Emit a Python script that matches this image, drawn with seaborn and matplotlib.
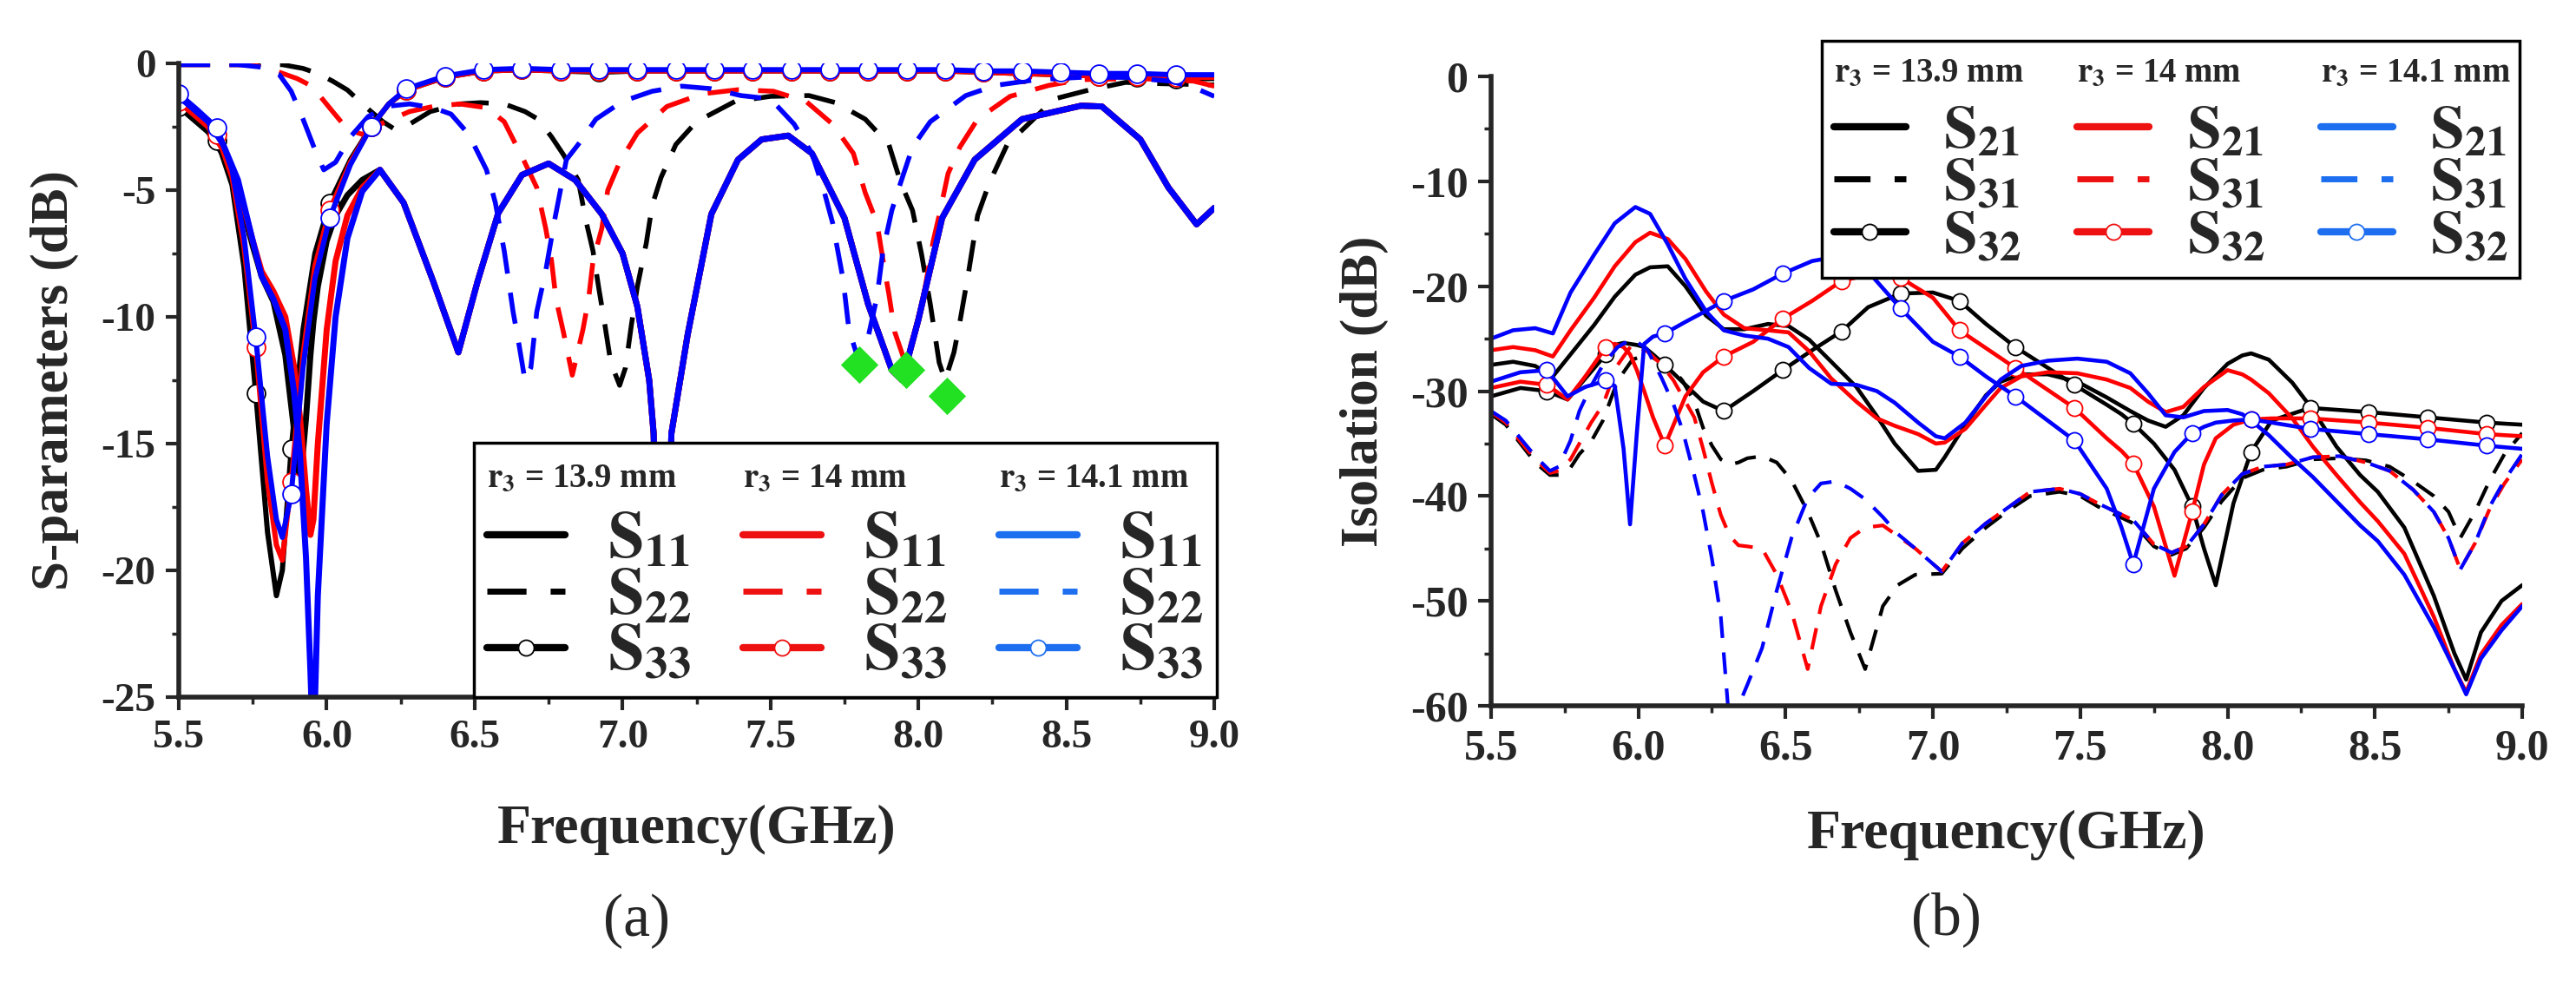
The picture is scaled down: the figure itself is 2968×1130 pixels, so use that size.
import matplotlib
matplotlib.use("Agg")
import matplotlib.pyplot as plt
from matplotlib.lines import Line2D
from matplotlib.text import Text
from matplotlib.legend_handler import HandlerBase
from matplotlib.ticker import MultipleLocator, FormatStrFormatter
import seaborn as sns

sns.set_style("ticks")
plt.rcParams["font.family"] = ["Liberation Serif", "DejaVu Serif"]
plt.rcParams["font.weight"] = "bold"
plt.rcParams["axes.labelweight"] = "bold"
plt.rcParams["mathtext.fontset"] = "stix"
plt.rcParams["axes.unicode_minus"] = False

# ---------------- (a) S-parameters ----------------
s11_head_f = [5.50, 5.55, 5.60, 5.65, 5.70, 5.75, 5.78, 5.82, 5.86, 5.89, 5.91, 5.93, 5.945, 5.955, 5.97, 6.00, 6.03, 6.07, 6.12]
s11_black_head = [-1.7, -2.2, -2.7, -3.6, -5.0, -7.2, -8.4, -9.4, -11.5, -14.5, -16.6, -14.0, -11.5, -10.2, -8.8, -7.0, -6.0, -5.2, -4.6]
s11_red_head = [-1.5, -2.0, -2.5, -3.4, -4.8, -7.0, -8.2, -9.0, -10.0, -12.0, -14.0, -16.8, -18.6, -18.0, -15.0, -10.5, -7.8, -6.0, -4.9]
s11_blue_head = [-1.3, -1.8, -2.3, -3.2, -4.6, -7.0, -8.4, -9.3, -10.5, -13.0, -15.5, -19.5, -24.0, -27.5, -21.0, -14.2, -10.0, -6.9, -5.05]
s11_tail_f = [6.18, 6.26, 6.36, 6.445, 6.51, 6.58, 6.66, 6.75, 6.84, 6.93, 7.00, 7.05, 7.09, 7.105, 7.135, 7.165, 7.22, 7.30,
              7.39, 7.47, 7.56, 7.64, 7.75, 7.83, 7.91, 7.945, 8.00, 8.08, 8.19, 8.35, 8.55, 8.62, 8.75, 8.845, 8.94, 9.00]
s11_tail = [-4.2, -5.5, -8.6, -11.4, -8.6, -5.9, -4.4, -3.95, -4.6, -5.95, -7.5, -9.6, -12.5, -14.6, -28.0, -14.6, -10.7, -5.95,
            -3.8, -3.0, -2.85, -3.55, -6.1, -9.5, -12.1, -12.5, -10.1, -6.1, -3.8, -2.2, -1.67, -1.7, -3.0, -4.9, -6.35, -5.7]

s22_black_f = [5.50, 5.85, 5.92, 5.97, 6.02, 6.07, 6.13, 6.19, 6.23, 6.28, 6.35, 6.45, 6.52, 6.60, 6.67, 6.714, 6.76, 6.80, 6.85,
               6.876, 6.90, 6.92, 6.94, 6.96, 6.99, 7.01, 7.03, 7.05, 7.08, 7.10, 7.13, 7.18, 7.25, 7.38, 7.50, 7.63, 7.72,
               7.82, 7.90, 7.94, 7.98, 8.01, 8.04, 8.07, 8.09, 8.12, 8.14, 8.17, 8.20, 8.24, 8.30, 8.46, 8.58, 8.70, 8.82, 9.00]
s22_black = [-0.05, -0.05, -0.2, -0.4, -0.7, -1.05, -1.7, -2.3, -2.6, -2.4, -1.9, -1.6, -1.55, -1.6, -1.9, -2.2, -2.9, -3.6, -4.6,
             -6.2, -7.4, -8.9, -10.3, -11.8, -12.7, -12.0, -10.3, -8.8, -7.1, -5.6, -4.5, -3.2, -2.3, -1.5, -1.3, -1.27, -1.55,
             -2.2, -3.2, -4.7, -5.8, -7.5, -9.5, -11.8, -12.5, -11.4, -10.2, -8.2, -6.0, -4.7, -3.2, -1.4, -1.04, -0.75, -0.8, -0.85]
s22_red_f = [5.50, 5.75, 5.84, 5.90, 5.95, 6.02, 6.07, 6.12, 6.18, 6.28, 6.36, 6.45, 6.54, 6.60, 6.665, 6.71, 6.74, 6.76, 6.775,
             6.80, 6.83, 6.866, 6.885, 6.90, 6.93, 6.95, 6.99, 7.05, 7.15, 7.27, 7.39, 7.51, 7.62, 7.71, 7.78, 7.82, 7.86,
             7.885, 7.90, 7.92, 7.955, 7.99, 8.02, 8.05, 8.07, 8.10, 8.14, 8.20, 8.31, 8.44, 8.55, 8.75, 8.93, 9.00]
s22_red = [-0.05, -0.05, -0.35, -0.6, -0.9, -1.9, -2.6, -2.8, -2.4, -1.9, -1.7, -1.6, -1.75, -2.3, -3.8, -4.9, -6.5, -7.8, -9.3,
           -10.6, -12.3, -10.5, -9.3, -7.8, -6.5, -5.0, -3.9, -2.75, -1.7, -1.2, -1.04, -1.1, -1.5, -2.4, -3.55, -5.1, -6.3,
           -8.1, -9.1, -10.6, -11.8, -10.5, -9.0, -7.0, -6.0, -4.35, -3.3, -2.2, -1.3, -0.87, -0.64, -0.6, -0.7, -0.9]
s22_blue_f = [5.50, 5.70, 5.78, 5.84, 5.88, 5.92, 5.96, 5.99, 6.03, 6.08, 6.14, 6.20, 6.28, 6.36, 6.42, 6.48, 6.54, 6.57, 6.60,
              6.63, 6.65, 6.67, 6.69, 6.71, 6.74, 6.77, 6.81, 6.85, 6.91, 7.00, 7.10, 7.20, 7.30, 7.40, 7.50, 7.58, 7.64,
              7.68, 7.71, 7.745, 7.765, 7.80, 7.83, 7.86, 7.88, 7.91, 7.94, 7.98, 8.04, 8.16, 8.26, 8.40, 8.55, 8.70, 8.85, 8.93, 9.00]
s22_blue = [-0.05, -0.05, -0.15, -0.45, -1.1, -2.2, -3.4, -4.2, -3.9, -2.9, -2.1, -1.7, -1.6, -1.75, -2.0, -2.8, -4.2, -5.5, -7.4,
            -9.8, -11.1, -12.5, -12.0, -9.8, -8.2, -6.2, -3.8, -3.2, -2.2, -1.5, -1.1, -0.9, -1.0, -1.27, -1.4, -2.4, -3.55,
            -5.0, -6.3, -8.5, -10.5, -11.8, -10.8, -9.2, -7.4, -5.8, -4.7, -3.3, -2.3, -1.27, -0.87, -0.64, -0.55, -0.55, -0.7, -0.95, -1.3]

s33_f = [5.50, 5.56, 5.63, 5.68, 5.72, 5.76, 5.80, 5.83, 5.85, 5.88, 5.92, 5.96, 6.01, 6.08, 6.15, 6.21, 6.27, 6.40, 6.53,
         6.66, 6.79, 6.92, 7.05, 7.18, 7.31, 7.44, 7.57, 7.70, 7.83, 7.96, 8.09, 8.22, 8.35, 8.48, 8.61, 8.74, 8.87, 9.00]
s33_marks = [5.50, 5.63, 5.76, 5.88, 6.01, 6.15, 6.27, 6.40, 6.53, 6.66, 6.79, 6.92, 7.05, 7.18, 7.31, 7.44, 7.57, 7.70,
             7.83, 7.96, 8.09, 8.22, 8.35, 8.48, 8.61, 8.74, 8.87]
s33_black = [-1.7, -2.2, -3.05, -4.8, -8.0, -13.0, -18.5, -21.0, -20.0, -15.2, -10.5, -7.5, -5.5, -3.8, -2.5, -1.6, -1.05, -0.55, -0.3,
             -0.25, -0.3, -0.35, -0.3, -0.3, -0.3, -0.3, -0.3, -0.3, -0.3, -0.3, -0.3, -0.35, -0.4, -0.45, -0.5, -0.55, -0.6, -0.6]
s33_red = [-1.5, -2.0, -2.8, -4.5, -7.2, -11.2, -16.5, -19.0, -19.6, -16.5, -11.5, -8.0, -5.8, -3.9, -2.5, -1.6, -1.05, -0.55, -0.3,
           -0.25, -0.3, -0.3, -0.3, -0.3, -0.3, -0.3, -0.3, -0.3, -0.3, -0.3, -0.3, -0.35, -0.4, -0.45, -0.5, -0.5, -0.55, -0.55]
s33_blue = [-1.2, -1.8, -2.55, -4.2, -6.8, -10.8, -15.5, -18.0, -18.7, -17.0, -12.0, -8.5, -6.1, -4.0, -2.5, -1.6, -1.0, -0.5, -0.25,
            -0.2, -0.25, -0.25, -0.25, -0.25, -0.25, -0.25, -0.25, -0.25, -0.25, -0.25, -0.25, -0.3, -0.3, -0.35, -0.4, -0.4, -0.45, -0.45]

diamond_f = [7.80, 7.957, 8.095]
diamond_db = [-11.9, -12.1, -13.1]

# ---------------- (b) Isolation ----------------
r21_f = [5.50, 5.575, 5.65, 5.71, 5.77, 5.85, 5.92, 5.99, 6.04, 6.10, 6.16, 6.23, 6.29, 6.36, 6.44, 6.51, 6.58, 6.655, 6.74,
         6.81, 6.87, 6.95, 7.01, 7.04, 7.11, 7.18, 7.23, 7.30, 7.39, 7.49, 7.59, 7.67, 7.73, 7.79, 7.85, 7.92, 8.00, 8.05,
         8.08, 8.14, 8.22, 8.29, 8.37, 8.45, 8.51, 8.60, 8.70, 8.77, 8.81, 8.86, 8.93, 9.00]
s21_black = [-27.5, -27.2, -27.6, -28.6, -26.5, -23.7, -21.0, -18.9, -18.2, -18.1, -20.0, -22.8, -24.1, -24.1, -23.6, -23.8,
             -25.1, -27.2, -29.6, -32.4, -35.0, -37.6, -37.5, -36.3, -33.2, -30.4, -29.1, -28.4, -28.4, -29.1, -30.6, -31.9,
             -32.8, -33.4, -32.3, -29.7, -27.4, -26.6, -26.4, -27.0, -29.2, -31.8, -35.3, -38.0, -39.6, -43.0, -49.5, -55.0,
             -57.5, -53.0, -50.0, -48.5]
s21_red = [-26.1, -25.8, -26.1, -26.7, -24.2, -21.1, -18.1, -15.8, -14.9, -15.5, -17.4, -20.5, -22.7, -24.0, -24.2, -24.4,
           -26.2, -28.8, -31.0, -32.6, -33.3, -34.1, -35.0, -34.9, -33.6, -31.3, -29.7, -28.6, -28.2, -28.3, -28.9, -29.7,
           -31.0, -32.0, -31.5, -29.6, -28.0, -28.4, -28.9, -30.2, -32.6, -35.3, -38.0, -40.6, -42.4, -45.5, -51.5, -56.5,
           -58.7, -55.1, -52.3, -50.3]
s21_blue = [-25.0, -24.2, -24.0, -24.5, -20.6, -17.0, -14.0, -12.45, -13.1, -16.0, -19.3, -22.4, -24.2, -24.7, -25.0, -25.8,
            -27.8, -29.3, -29.4, -30.0, -31.1, -33.0, -34.3, -34.5, -33.0, -30.5, -28.9, -27.6, -27.1, -26.9, -27.2, -28.3,
            -30.2, -32.3, -32.5, -31.9, -31.8, -32.2, -32.8, -34.2, -36.4, -38.2, -40.5, -42.8, -44.3, -47.5, -52.5, -56.5,
            -58.9, -55.5, -52.8, -50.5]

r31_f = [5.50, 5.55, 5.60, 5.65, 5.70, 5.73, 5.77, 5.80, 5.84, 5.88, 5.93, 5.98, 6.03, 6.08, 6.12, 6.15, 6.19, 6.22, 6.25, 6.28,
         6.31, 6.34, 6.37, 6.42, 6.47, 6.52, 6.575, 6.62, 6.67, 6.72, 6.77, 6.83, 6.88, 6.94, 7.03, 7.10, 7.18, 7.26, 7.33, 7.43,
         7.50, 7.56, 7.62, 7.68, 7.75, 7.81, 7.86, 7.92, 7.98, 8.05, 8.12, 8.20, 8.29, 8.38, 8.47, 8.55, 8.63, 8.70, 8.75, 8.79,
         8.84, 8.89, 8.94, 9.00]
s31_black = [-32.2, -33.2, -35.0, -36.8, -38.0, -38.0, -37.3, -36.0, -34.8, -32.8, -29.0, -27.0, -26.5, -27.3, -28.0, -29.0,
             -31.0, -33.5, -35.2, -36.5, -37.0, -36.8, -36.4, -36.2, -36.8, -38.5, -41.5, -44.5, -49.0, -53.0, -56.5, -50.5,
             -48.5, -47.5, -47.4, -45.0, -43.0, -41.3, -40.0, -39.6, -40.0, -41.0, -41.8, -42.6, -44.8, -45.6, -45.0, -43.0,
             -40.5, -38.3, -37.5, -37.2, -36.5, -36.4, -36.6, -37.2, -38.6, -40.0, -41.5, -44.0, -41.5, -38.5, -36.0, -34.0]
s31_red = [-32.0, -33.0, -34.8, -36.5, -37.8, -37.6, -36.5, -35.0, -33.0, -31.3, -27.5, -25.5, -26.2, -27.5, -29.0, -30.5,
           -32.5, -35.5, -38.8, -41.8, -43.8, -44.7, -44.8, -45.0, -47.5, -51.0, -56.5, -50.5, -46.5, -44.0, -43.0, -42.8,
           -43.8, -45.0, -47.2, -44.5, -42.6, -41.0, -39.6, -39.3, -39.8, -40.7, -41.5, -42.3, -44.6, -45.4, -44.8, -42.7,
           -39.9, -37.9, -37.2, -37.0, -36.3, -36.2, -36.8, -37.6, -39.4, -41.5, -44.0, -47.0, -44.5, -41.2, -38.8, -36.5]
s31_blue = [-31.9, -32.8, -34.5, -36.2, -37.6, -37.2, -34.7, -31.9, -29.5, -27.5, -25.8, -25.0, -26.0, -28.8, -31.3, -33.7,
            -38.0, -41.5, -46.0, -51.5, -62.0, -60.0, -58.0, -54.5, -49.0, -44.0, -40.2, -38.8, -38.6, -39.3, -40.3, -42.0,
            -43.6, -45.0, -47.2, -44.5, -42.6, -41.0, -39.6, -39.3, -39.8, -40.7, -41.5, -42.3, -44.6, -45.4, -44.8, -42.7,
            -39.9, -37.9, -37.2, -37.0, -36.3, -36.2, -36.8, -37.6, -39.4, -41.5, -44.0, -47.0, -44.5, -41.0, -38.5, -36.0]

r32_f = [5.50, 5.60, 5.69, 5.76, 5.82, 5.89, 5.92, 5.95, 5.972, 5.995, 6.02, 6.05, 6.09, 6.16, 6.22, 6.29, 6.39, 6.49, 6.59,
         6.69, 6.78, 6.89, 7.00, 7.09, 7.18, 7.28, 7.38, 7.48, 7.59, 7.64, 7.68, 7.75, 7.82, 7.88, 7.92, 7.96, 8.02, 8.08,
         8.15, 8.28, 8.48, 8.68, 8.88, 9.00]
r32_marks = [5.69, 5.89, 6.09, 6.29, 6.49, 6.69, 6.89, 7.09, 7.28, 7.48, 7.68, 7.88, 8.08, 8.28, 8.48, 8.68, 8.88]
s32_black = [-30.5, -29.7, -30.0, -30.8, -28.8, -26.5, -25.6, -25.4, -25.5, -25.6, -25.8, -26.5, -27.5, -29.4, -31.0, -31.9,
             -30.0, -28.0, -26.1, -24.3, -22.0, -20.7, -20.6, -21.4, -23.6, -25.8, -27.6, -29.4, -31.3, -32.2, -33.1, -35.0,
             -37.5, -41.0, -45.0, -48.5, -40.7, -35.8, -32.8, -31.6, -32.0, -32.5, -33.0, -33.2]
s32_red = [-29.7, -29.1, -29.4, -30.8, -28.6, -25.8, -25.5, -25.8, -26.5, -28.0, -30.0, -32.5, -35.2, -30.5, -28.2, -26.7,
           -25.3, -23.1, -21.4, -19.5, -18.9, -19.2, -21.1, -24.2, -25.9, -27.8, -29.7, -31.6, -34.5, -35.7, -36.9, -41.0,
           -47.6, -41.5, -37.0, -34.5, -33.2, -32.7, -32.6, -32.6, -33.0, -33.5, -34.1, -34.3]
s32_blue = [-29.1, -28.2, -28.0, -30.5, -29.6, -29.0, -29.5, -35.5, -42.7, -34.0, -25.5, -24.8, -24.5, -23.4, -22.5, -21.4,
            -20.3, -18.8, -17.6, -17.1, -18.6, -22.1, -25.3, -26.7, -28.6, -30.5, -32.6, -34.7, -39.3, -43.0, -46.5, -39.3,
            -35.8, -34.0, -33.4, -33.0, -32.8, -32.7, -33.0, -33.6, -34.1, -34.6, -35.2, -35.5]

radii = ["13.9", "14", "14.1"]
colors = ["#000000", "#ff0000", "#0000ff"]
legend_colors = ["#000000", "#ee1111", "#1e6ff0"]


class Header:
    def __init__(self, text):
        self.text = text


class HeaderHandler(HandlerBase):
    def __init__(self, size):
        super().__init__()
        self.size = size

    def create_artists(self, legend, orig_handle, xdescent, ydescent, width, height, fontsize, trans):
        t = Text(-xdescent, -ydescent + height / 2, orig_handle.text, fontsize=self.size,
                 fontweight="bold", va="center", ha="left", transform=trans)
        return [t]


def draw(ax, f, v, color, ls="-", lw=4.0, marks=None, ms=14):
    kw = {}
    if marks is not None:
        idx = [i for i, x in enumerate(f) if any(abs(x - m) < 1e-9 for m in marks)]
        kw = dict(marker="o", markevery=idx, markersize=ms, markerfacecolor="white",
                  markeredgecolor=color, markeredgewidth=1.3)
    sns.lineplot(x=f, y=v, ax=ax, color=color, lw=lw, linestyle=ls, errorbar=None, sort=False, **kw)


def style_axes(ax, ymajor, yminor, ticksize):
    ax.xaxis.set_major_locator(MultipleLocator(0.5))
    ax.xaxis.set_minor_locator(MultipleLocator(0.25))
    ax.xaxis.set_major_formatter(FormatStrFormatter("%.1f"))
    ax.yaxis.set_major_locator(MultipleLocator(ymajor))
    ax.yaxis.set_minor_locator(MultipleLocator(yminor))
    ax.yaxis.set_major_formatter(FormatStrFormatter("%d"))
    ax.tick_params(which="major", direction="out", length=11, width=3, labelsize=ticksize, pad=8)
    ax.tick_params(which="minor", direction="out", length=6, width=2.5)
    sns.despine(ax=ax)
    for s in ["left", "bottom"]:
        ax.spines[s].set_linewidth(4)


def make_legend(ax, names, dashes, lws, bbox, loc, fontsize, hsize, hlen, hpad):
    handles, labels = [], []
    for r, lc in zip(radii, legend_colors):
        handles.append(Header(r"$\mathbf{r_3}$ = " + r + " mm"))
        labels.append("")
        for k, (name, ls, lw) in enumerate(zip(names, dashes, lws)):
            if k == 2:
                h = Line2D([], [], color=lc, lw=lw, ls="-", marker="o", markersize=13,
                           markerfacecolor="white", markeredgecolor=lc, markeredgewidth=1.3)
            else:
                h = Line2D([], [], color=lc, lw=lw, ls=ls)
            handles.append(h)
            labels.append(r"$\mathbf{" + name + "}$")
    leg = ax.legend(handles, labels, ncol=3, loc=loc, bbox_to_anchor=bbox, mode="expand",
                    fontsize=fontsize, handlelength=hlen, handletextpad=hpad, columnspacing=0.5,
                    labelspacing=-0.05, borderpad=0.2, borderaxespad=0.0, numpoints=1,
                    frameon=True, fancybox=False, edgecolor="black", framealpha=1,
                    handler_map={Header: HeaderHandler(hsize)})
    leg.get_frame().set_linewidth(2.5)
    leg.set_zorder(10)
    return leg


fig = plt.figure(figsize=(29.68, 11.30), dpi=100)
ax1 = fig.add_axes([0.0694, 0.2894, 0.402, 0.646])
ax2 = fig.add_axes([0.5788, 0.2805, 0.4003, 0.6416])

dash_a = (0, (6.5, 4))
s11_heads = [s11_black_head, s11_red_head, s11_blue_head]
s22_fs = [s22_black_f, s22_red_f, s22_blue_f]
s22_vs = [s22_black, s22_red, s22_blue]
s33_vs = [s33_black, s33_red, s33_blue]
for c, head, f22, v22, v33 in zip(colors, s11_heads, s22_fs, s22_vs, s33_vs):
    draw(ax1, s11_head_f + s11_tail_f, head + s11_tail, c, lw=5)
    draw(ax1, f22, v22, c, ls=dash_a, lw=4)
    draw(ax1, s33_f, v33, c, lw=4.3, marks=s33_marks, ms=15)

sns.scatterplot(x=diamond_f, y=diamond_db, ax=ax1, marker="D", s=22 ** 2, color="#22e022",
                linewidth=0, zorder=5, legend=False)

ax1.set_xlim(5.5, 9.0)
ax1.set_ylim(-25, 0)
style_axes(ax1, 5, 2.5, 34)
ax1.set_ylabel("S-parameters (dB)", fontsize=44)
ax1.set_xlabel("Frequency(GHz)", fontsize=46)
ax1.yaxis.set_label_coords(-0.12, 0.5)
ax1.xaxis.set_label_coords(0.5, -0.21)
ax1.xaxis.label.set_va("center")
ax1.yaxis.label.set_va("center")
make_legend(ax1, ["S_{11}", "S_{22}", "S_{33}"], ["-", dash_a, "-"], [6, 5, 6],
            (0.285, 0.0, 0.717, 0.412), "lower left", 54, 28, 1.2, 0.65)

dash_b = (0, (6, 4))
for c, v21, v31, v32 in zip(colors, [s21_black, s21_red, s21_blue], [s31_black, s31_red, s31_blue],
                            [s32_black, s32_red, s32_blue]):
    draw(ax2, r21_f, v21, c, lw=3.3)
    draw(ax2, r31_f, v31, c, ls=dash_b, lw=3.0)
    draw(ax2, r32_f, v32, c, lw=3.3, marks=r32_marks, ms=13)

ax2.set_xlim(5.5, 9.0)
ax2.set_ylim(-60, 0)
style_axes(ax2, 10, 5, 36)
ax2.set_ylabel("Isolation (dB)", fontsize=44)
ax2.set_xlabel("Frequency(GHz)", fontsize=46)
ax2.yaxis.set_label_coords(-0.123, 0.5)
ax2.xaxis.set_label_coords(0.5, -0.206)
ax2.xaxis.label.set_va("center")
ax2.yaxis.label.set_va("center")
make_legend(ax2, ["S_{21}", "S_{31}", "S_{32}"], ["-", dash_b, "-"], [6, 5, 6],
            (0.3207, 0.676, 0.677, 0.381), "upper left", 50, 28, 1.2, 0.62)

fig.text(0.2473, 0.061, "(a)", ha="center", va="center", fontsize=50, fontweight="normal")
fig.text(0.7557, 0.0628, "(b)", ha="center", va="center", fontsize=50, fontweight="normal")

fig.savefig("out.png", dpi=100)
